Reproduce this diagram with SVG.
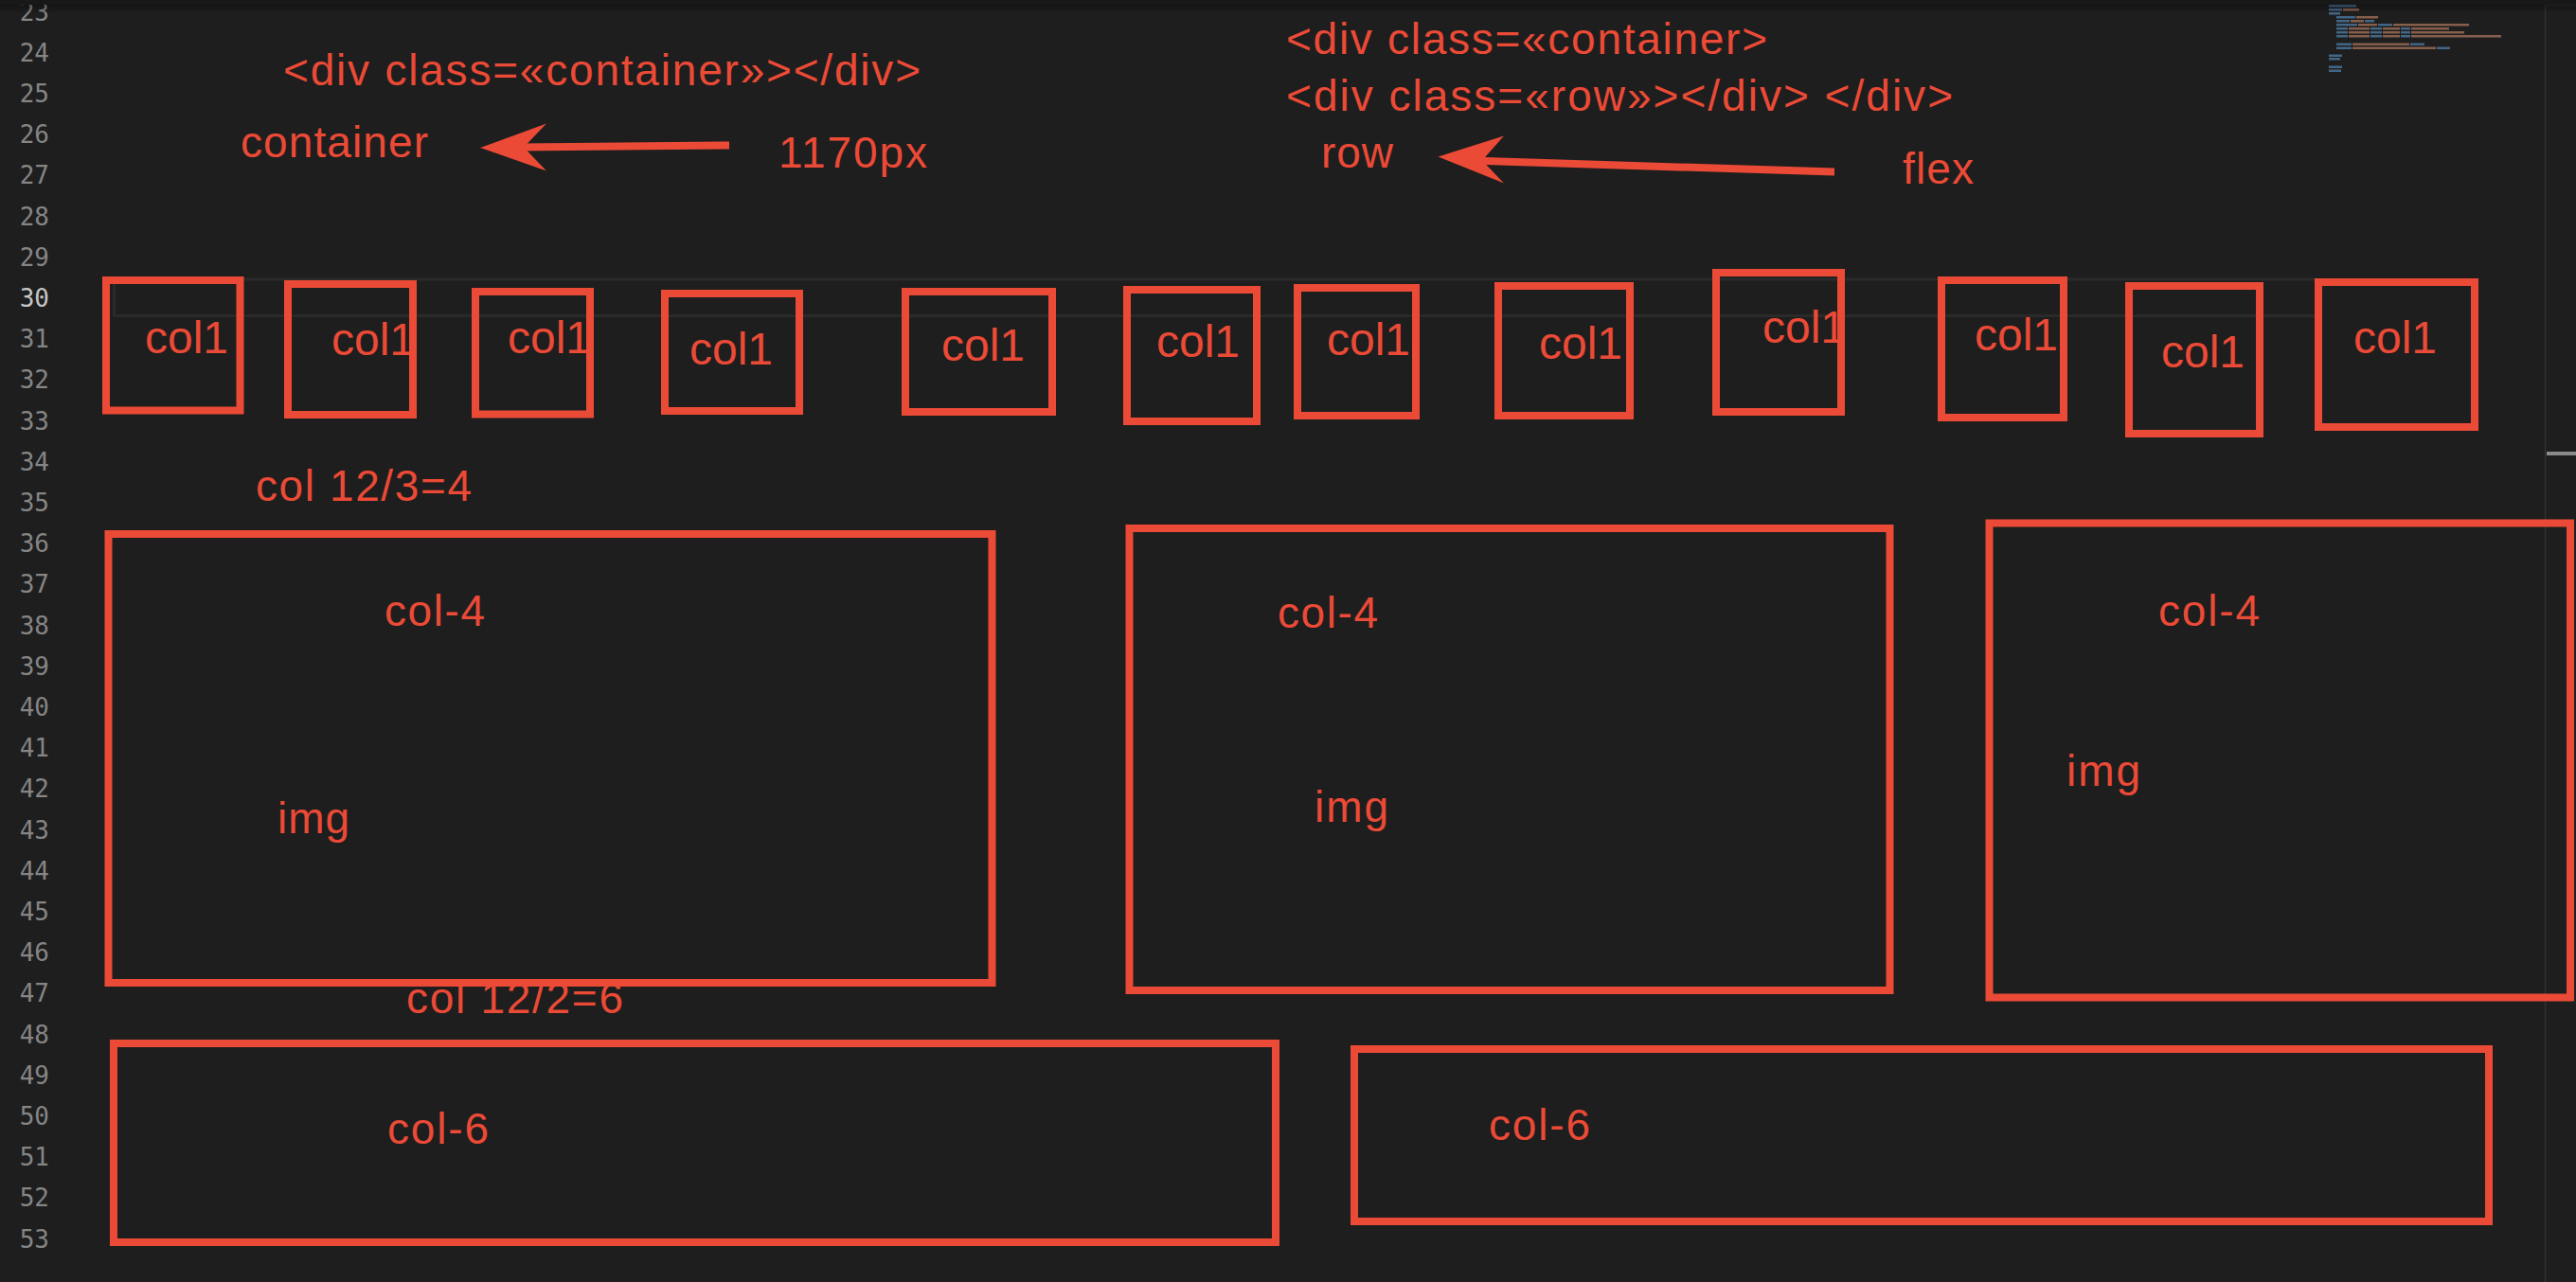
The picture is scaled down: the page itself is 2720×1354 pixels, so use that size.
<svg xmlns="http://www.w3.org/2000/svg" width="2720" height="1354" viewBox="0 0 2720 1354">
  <defs>
    <style>
      .ln { font-family: "DejaVu Sans Mono", "Liberation Mono", monospace; font-size: 26px; fill: #858585; text-anchor: end; }
      .ln.cur { fill: #c6c6c6; }
      .ann { font-family: "Liberation Sans", Arial, sans-serif; font-size: 46px; fill: #eb4a36; }
      .col1 { font-family: "Liberation Sans", Arial, sans-serif; font-size: 48px; fill: #eb4a36; }
      .box { fill: none; stroke: #eb4a36; stroke-width: 8; }
      .arrow-shaft { fill: none; stroke: #eb4a36; stroke-width: 8; }
      .arrow-head { fill: #eb4a36; }
      .mt { fill: #4f7fa8; opacity: 0.75; }
      .mv { fill: #a9765c; opacity: 0.75; }
    </style>
    <linearGradient id="topShadow" x1="0" y1="0" x2="0" y2="1">
      <stop offset="0" stop-color="#000" stop-opacity="0.35"/>
      <stop offset="1" stop-color="#000" stop-opacity="0"/>
    </linearGradient>
  </defs>

  <!-- background -->
  <rect x="0" y="0" width="2720" height="1354" fill="#1e1e1e"/>

  <!-- current line highlight -->
  <path d="M2446 295 H120.5 V333.5 H2446" fill="none" stroke="#2a2a2a" stroke-width="3"/>

  <!-- line numbers -->
  <g id="gutter">
    <text class="ln" x="52" y="21.6">23</text>
    <text class="ln" x="52" y="64.8">24</text>
    <text class="ln" x="52" y="108">25</text>
    <text class="ln" x="52" y="151.2">26</text>
    <text class="ln" x="52" y="194.4">27</text>
    <text class="ln" x="52" y="237.6">28</text>
    <text class="ln" x="52" y="280.8">29</text>
    <text class="ln cur" x="52" y="324">30</text>
    <text class="ln" x="52" y="367.2">31</text>
    <text class="ln" x="52" y="410.4">32</text>
    <text class="ln" x="52" y="453.6">33</text>
    <text class="ln" x="52" y="496.8">34</text>
    <text class="ln" x="52" y="540">35</text>
    <text class="ln" x="52" y="583.2">36</text>
    <text class="ln" x="52" y="626.4">37</text>
    <text class="ln" x="52" y="669.6">38</text>
    <text class="ln" x="52" y="712.8">39</text>
    <text class="ln" x="52" y="756">40</text>
    <text class="ln" x="52" y="799.2">41</text>
    <text class="ln" x="52" y="842.4">42</text>
    <text class="ln" x="52" y="885.6">43</text>
    <text class="ln" x="52" y="928.8">44</text>
    <text class="ln" x="52" y="972">45</text>
    <text class="ln" x="52" y="1015.2">46</text>
    <text class="ln" x="52" y="1058.4">47</text>
    <text class="ln" x="52" y="1101.6">48</text>
    <text class="ln" x="52" y="1144.8">49</text>
    <text class="ln" x="52" y="1188">50</text>
    <text class="ln" x="52" y="1231.2">51</text>
    <text class="ln" x="52" y="1274.4">52</text>
    <text class="ln" x="52" y="1317.6">53</text>
  </g>

  <!-- minimap -->
  <g id="minimap">
    <rect class="mt" x="2459" y="5" width="29" height="2.5"/>
    <rect class="mt" x="2459" y="9" width="14" height="2.5"/><rect class="mv" x="2474" y="9" width="17" height="2.5"/>
    <rect class="mt" x="2459" y="13" width="12" height="2.5"/>
    <rect class="mt" x="2467" y="17" width="20" height="2.5"/><rect class="mv" x="2488" y="17" width="23" height="2.5"/>
    <rect class="mt" x="2467" y="21" width="14" height="2.5"/><rect class="mv" x="2482" y="21" width="14" height="2.5"/><rect class="mt" x="2497" y="21" width="10" height="2.5"/>
    <rect class="mt" x="2467" y="25" width="22" height="2.5"/><rect class="mv" x="2490" y="25" width="20" height="2.5"/><rect class="mt" x="2511" y="25" width="15" height="2.5"/><rect class="mv" x="2527" y="25" width="80" height="2.5"/>
    <rect class="mt" x="2467" y="29" width="12" height="2.5"/><rect class="mv" x="2480" y="29" width="22" height="2.5"/><rect class="mt" x="2503" y="29" width="12" height="2.5"/><rect class="mv" x="2516" y="29" width="18" height="2.5"/><rect class="mt" x="2535" y="29" width="10" height="2.5"/><rect class="mv" x="2546" y="29" width="40" height="2.5"/>
    <rect class="mt" x="2467" y="33" width="12" height="2.5"/><rect class="mv" x="2480" y="33" width="22" height="2.5"/><rect class="mt" x="2503" y="33" width="12" height="2.5"/><rect class="mv" x="2516" y="33" width="18" height="2.5"/><rect class="mt" x="2535" y="33" width="10" height="2.5"/><rect class="mv" x="2546" y="33" width="56" height="2.5"/>
    <rect class="mt" x="2467" y="37" width="12" height="2.5"/><rect class="mv" x="2480" y="37" width="22" height="2.5"/><rect class="mt" x="2503" y="37" width="12" height="2.5"/><rect class="mv" x="2516" y="37" width="18" height="2.5"/><rect class="mt" x="2535" y="37" width="10" height="2.5"/><rect class="mv" x="2546" y="37" width="95" height="2.5"/>
    <rect class="mt" x="2467" y="45.5" width="16" height="2.5"/><rect class="mv" x="2484" y="45.5" width="60" height="2.5"/><rect class="mt" x="2545" y="45.5" width="15" height="2.5"/>
    <rect class="mt" x="2467" y="49.5" width="16" height="2.5"/><rect class="mv" x="2484" y="49.5" width="88" height="2.5"/><rect class="mt" x="2573" y="49.5" width="14" height="2.5"/>
    <rect class="mt" x="2459" y="57.5" width="14" height="2.5"/>
    <rect class="mt" x="2459" y="61" width="12" height="2.5"/>
    <rect class="mt" x="2459" y="69.5" width="14" height="2.5"/>
    <rect class="mt" x="2459" y="73.5" width="13" height="2.5"/>
  </g>

  <!-- scrollbar -->
  <g id="scrollbar">
    <line x1="2687.5" y1="5" x2="2687.5" y2="1354" stroke="#303030" stroke-width="1.5"/>
    <line x1="2688" y1="5.5" x2="2720" y2="5.5" stroke="#303030" stroke-width="1.5"/>
    <rect x="2689" y="477" width="31" height="4" fill="#8a8a8a"/>
  </g>

  <!-- top title shadow -->
  <rect x="0" y="0" width="2720" height="5" fill="#181818"/>
  <rect x="0" y="5" width="2720" height="9" fill="url(#topShadow)"/>

  <!-- annotations -->
  <g id="label-container-html">
    <text class="ann" x="299" y="90" textLength="673">&lt;div class=«container»&gt;&lt;/div&gt;</text>
  </g>
  <g id="label-container">
    <text class="ann" x="254" y="166" textLength="198">container</text>
  </g>
  <g id="label-1170px">
    <text class="ann" x="822" y="177" textLength="157">1170px</text>
  </g>
  <g id="label-row-html">
    <text class="ann" x="1358" y="57" textLength="508">&lt;div class=«container&gt;</text>
    <text class="ann" x="1358" y="117" textLength="704">&lt;div class=«row»&gt;&lt;/div&gt; &lt;/div&gt;</text>
  </g>
  <g id="label-row">
    <text class="ann" x="1395" y="177" textLength="76">row</text>
  </g>
  <g id="label-flex">
    <text class="ann" x="2009" y="194" textLength="75">flex</text>
  </g>

  <!-- connectors -->
  <g id="connectors">
    <line class="arrow-shaft" x1="770" y1="153.5" x2="548" y2="155.5"/>
    <polygon class="arrow-head" points="507,156 577,130.5 553,155.5 577,180.5"/>
    <line class="arrow-shaft" x1="1937" y1="181.5" x2="1560" y2="169.8"/>
    <polygon class="arrow-head" points="1518.5,165.5 1588,143.5 1565,169.5 1588,193.5"/>
  </g>

  <!-- row of col1 -->
  <g id="col1-1"><text class="col1" x="153" y="373">col1</text><rect class="box" x="112" y="296" width="141.5" height="137.5"/></g>
  <g id="col1-2"><text class="col1" x="350" y="375">col1</text><rect class="box" x="304" y="300" width="132" height="138"/></g>
  <g id="col1-3"><text class="col1" x="536" y="373">col1</text><rect class="box" x="502" y="308" width="121" height="129.5"/></g>
  <g id="col1-4"><text class="col1" x="728" y="385">col1</text><rect class="box" x="702" y="310" width="142" height="124"/></g>
  <g id="col1-5"><text class="col1" x="994" y="381">col1</text><rect class="box" x="956" y="308" width="155" height="127"/></g>
  <g id="col1-6"><text class="col1" x="1221" y="377">col1</text><rect class="box" x="1190" y="306" width="137" height="139"/></g>
  <g id="col1-7"><text class="col1" x="1401" y="375">col1</text><rect class="box" x="1370" y="304" width="125" height="135"/></g>
  <g id="col1-8"><text class="col1" x="1625" y="379">col1</text><rect class="box" x="1582" y="302" width="139" height="137"/></g>
  <g id="col1-9"><text class="col1" x="1861" y="362">col1</text><rect class="box" x="1812" y="288" width="132" height="147"/></g>
  <g id="col1-10"><text class="col1" x="2085" y="370">col1</text><rect class="box" x="2050" y="296" width="129" height="145"/></g>
  <g id="col1-11"><text class="col1" x="2282" y="388">col1</text><rect class="box" x="2248" y="302" width="138" height="156"/></g>
  <g id="col1-12"><text class="col1" x="2485" y="373">col1</text><rect class="box" x="2448" y="298" width="165" height="153"/></g>

  <!-- col-4 row -->
  <g id="label-col-12-3">
    <text class="ann" x="270" y="529" textLength="228">col 12/3=4</text>
  </g>
  <g id="col4-1">
    <rect class="box" x="114.5" y="564" width="933" height="474"/>
    <text class="ann" x="406" y="661" textLength="106">col-4</text>
    <text class="ann" x="293" y="879.5" textLength="76">img</text>
  </g>
  <g id="col4-2">
    <rect class="box" x="1192.5" y="558" width="803" height="488"/>
    <text class="ann" x="1349" y="663" textLength="106">col-4</text>
    <text class="ann" x="1388" y="868" textLength="78">img</text>
  </g>
  <g id="col4-3">
    <rect class="box" x="2100.5" y="552.5" width="613.5" height="501"/>
    <text class="ann" x="2279" y="661" textLength="107">col-4</text>
    <text class="ann" x="2182" y="830" textLength="78">img</text>
  </g>

  <!-- col-6 row -->
  <g id="label-col-12-2">
    <text class="ann" x="429" y="1070" textLength="229">col 12/2=6</text>
  </g>
  <g id="col6-1">
    <rect class="box" x="120" y="1102" width="1227" height="210"/>
    <text class="ann" x="409" y="1208" textLength="107">col-6</text>
  </g>
  <g id="col6-2">
    <rect class="box" x="1430" y="1108" width="1198" height="182"/>
    <text class="ann" x="1572" y="1204" textLength="107">col-6</text>
  </g>
</svg>
